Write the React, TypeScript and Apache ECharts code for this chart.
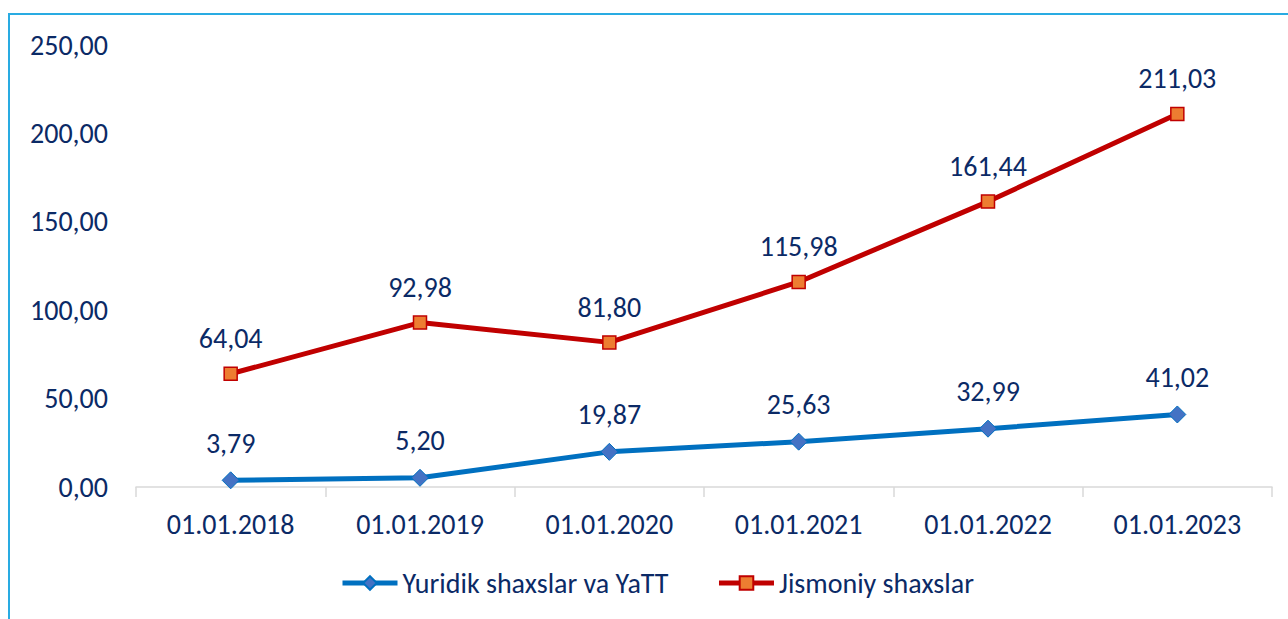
import React, { useEffect, useRef } from "react";
import * as echarts from "echarts";

const categories = ["01.01.2018", "01.01.2019", "01.01.2020", "01.01.2021", "01.01.2022", "01.01.2023"];
const yuridik = [3.79, 5.2, 19.87, 25.63, 32.99, 41.02];
const jismoniy = [64.04, 92.98, 81.8, 115.98, 161.44, 211.03];
const seriesNames = ["Yuridik shaxslar va YaTT", "Jismoniy shaxslar"];

const FONT = "Carlito, Lato, 'Open Sans', sans-serif";
const TEXT = "#0b2a66";
const FS = 28;
const fmt = (v: number) => v.toFixed(2).replace(".", ",");

export default function App() {
  const ref = useRef<HTMLDivElement>(null);
  useEffect(() => {
    const chart = echarts.init(ref.current!, null, { renderer: "svg" });
    const label = {
      show: true,
      position: "top",
      distance: 14,
      fontSize: FS,
      color: TEXT,
      fontFamily: FONT,
      formatter: (p: any) => fmt(p.value),
    };
    chart.setOption({
      animation: false,
      textStyle: { fontFamily: FONT },
      graphic: [
        {
          type: "rect",
          shape: { x: 9, y: 14, width: 1300, height: 620 },
          style: { fill: "none", stroke: "#29abe2", lineWidth: 2 },
          silent: true,
        },
      ],
      grid: { left: 136, right: 16, top: 45, bottom: 132 },
      legend: {
        bottom: 17,
        left: 335,
        itemWidth: 55,
        itemHeight: 17,
        itemGap: 48,
        lineStyle: { width: 5 },
        textStyle: { fontSize: FS, color: TEXT, fontFamily: FONT },
        data: seriesNames,
      },
      xAxis: {
        type: "category",
        data: categories,
        boundaryGap: true,
        axisLine: { lineStyle: { color: "#d9d9d9", width: 1.5 } },
        axisTick: { show: true, length: 10, lineStyle: { color: "#d9d9d9", width: 1.5 } },
        axisLabel: { fontSize: FS, color: TEXT, margin: 23, fontFamily: FONT },
      },
      yAxis: {
        type: "value",
        min: 0,
        max: 250,
        interval: 50,
        axisLine: { show: false },
        axisTick: { show: false },
        splitLine: { show: false },
        axisLabel: { fontSize: FS, color: TEXT, margin: 28, fontFamily: FONT, formatter: (v: number) => fmt(v) },
      },
      series: [
        {
          name: seriesNames[0],
          type: "line",
          data: yuridik,
          lineStyle: { color: "#0070c0", width: 5 },
          itemStyle: { color: "#4472c4", borderColor: "#0070c0", borderWidth: 1 },
          symbol: "diamond",
          symbolSize: 17,
          label,
        },
        {
          name: seriesNames[1],
          type: "line",
          data: jismoniy,
          lineStyle: { color: "#c00000", width: 5 },
          itemStyle: { color: "#ed7d31", borderColor: "#c00000", borderWidth: 1.5 },
          symbol: "rect",
          symbolSize: 13,
          label,
        },
      ],
    });
    return () => chart.dispose();
  }, []);
  return (
    <div
      ref={ref}
      style={{ position: "absolute", left: 0, top: 0, width: 1288, height: 619, background: "#fff" }}
    />
  );
}
